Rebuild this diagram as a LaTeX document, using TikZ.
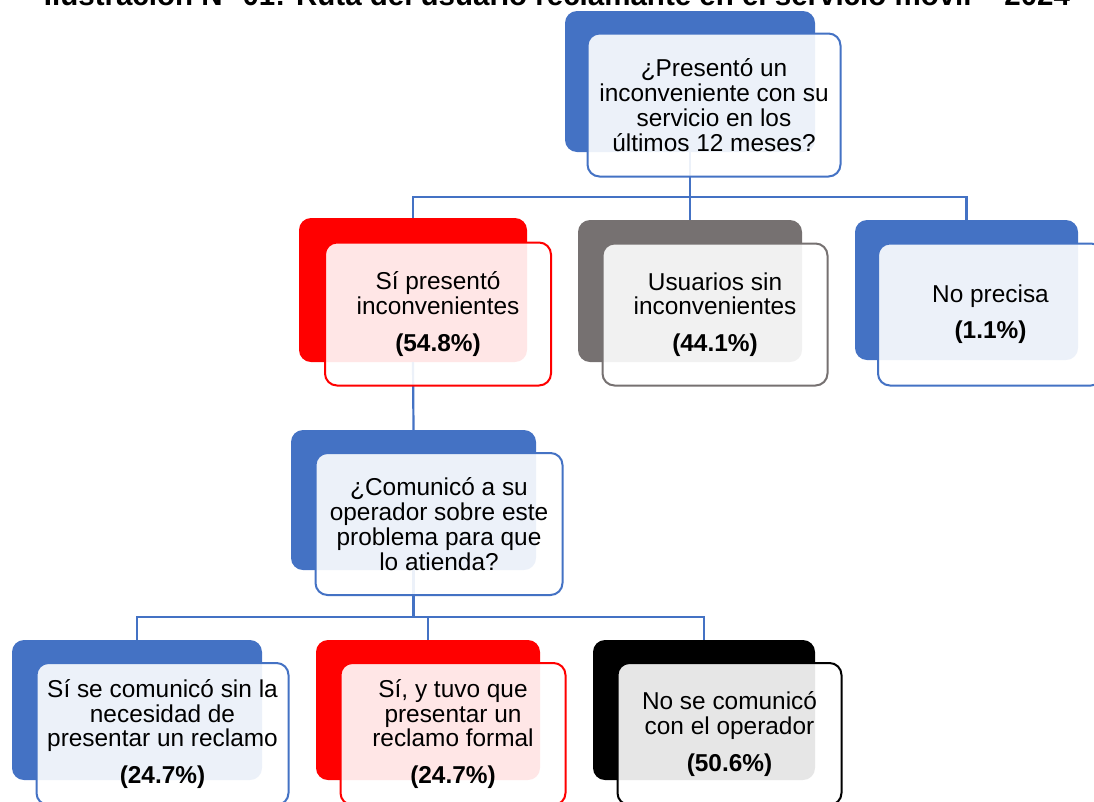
\documentclass[tikz,border=0pt]{standalone}
\usepackage{fontspec}
\setmainfont{Liberation Sans}
\usepackage{tikz}
\usetikzlibrary{positioning}

\definecolor{azul}{HTML}{4472C4}
\definecolor{rojo}{HTML}{FF0000}
\definecolor{gris}{HTML}{767171}

\begin{document}
\begin{tikzpicture}[x=1pt, y=-1pt,
		back/.style={rectangle, fill=#1, rounded corners=12pt, inner sep=0pt},
		front/.style={rectangle, draw=#1, line width=2pt, fill=white, fill opacity=0.9, text opacity=1, rounded corners=12pt, align=center, inner sep=0pt, font=\fontsize{24.4}{24.8}\selectfont},
		link/.style={draw=azul, line width=2.2pt}]
		
		\useasboundingbox (0,0) rectangle (1094,801);
		
		\node[anchor=base, font=\fontsize{29.5}{30}\selectfont\bfseries] (titulo) at (557,5) {Ilustración N° 01: Ruta del usuario reclamante en el servicio móvil – 2024};
		
		% cajas de fondo
		\node[back=azul, minimum width=250pt, minimum height=141pt] (preg) at (690,81.5) {};
		\node[back=rojo, minimum width=228pt, minimum height=144pt] (si) at (413,290) {};
		\node[back=gris, minimum width=224pt, minimum height=142pt] (sin) at (690,291) {};
		\node[back=azul, minimum width=223pt, minimum height=140pt] (np) at (966.5,290) {};
		\node[back=azul, minimum width=245pt, minimum height=140pt] (com) at (413.5,500) {};
		\node[back=azul, minimum width=250pt, minimum height=140pt] (sincl) at (137,710) {};
		\node[back=rojo, minimum width=224pt, minimum height=140pt] (recl) at (428,710) {};
		\node[back=black, minimum width=222pt, minimum height=140pt] (nocom) at (704,710) {};
		
		% conectores
		\draw[link] (preg.south) -- ++(0,45) -| (si.north);
		\draw[link] (preg.south) -- ++(0,45) -| (sin.north);
		\draw[link] (preg.south) -- ++(0,45) -| (np.north);
		\draw[link] (si.south) -- (com.north);
		\draw[link] (com.south) -- ++(0,47) -| (sincl.north);
		\draw[link] (com.south) -- ++(0,47) -| (recl.north);
		\draw[link] (com.south) -- ++(0,47) -| (nocom.north);
		
		% cajas de texto
		\node[front=azul, minimum width=253pt, minimum height=143pt, xshift=24pt, yshift=-23.5pt] (pregt) at (preg) {¿Presentó un\\inconveniente con su\\servicio en los\\últimos 12 meses?};
		\node[front=rojo, minimum width=226pt, minimum height=143pt, xshift=25pt, yshift=-24pt] (sit) at (si) {Sí presentó\\inconvenientes\\[12pt]\textbf{(54.8\%)}};
		\node[front=gris, minimum width=225pt, minimum height=142pt, xshift=25pt, yshift=-23.5pt] (sint) at (sin) {Usuarios sin\\inconvenientes\\[12pt]\textbf{(44.1\%)}};
		\node[front=azul, minimum width=225pt, minimum height=142pt, xshift=24pt, yshift=-24.5pt] (npt) at (np) {No precisa\\[11pt]\textbf{(1.1\%)}};
		\node[front=azul, minimum width=247pt, minimum height=142pt, xshift=25.5pt, yshift=-24pt] (comt) at (com) {¿Comunicó a su\\operador sobre este\\problema para que\\lo atienda?};
		\node[front=azul, minimum width=252pt, minimum height=142pt, xshift=25.5pt, yshift=-24pt] (sinclt) at (sincl) {Sí se comunicó sin la\\necesidad de\\presentar un reclamo\\[12pt]\textbf{(24.7\%)}};
		\node[front=rojo, minimum width=225pt, minimum height=142pt, xshift=25pt, yshift=-24pt] (reclt) at (recl) {Sí, y tuvo que\\presentar un\\reclamo formal\\[12pt]\textbf{(24.7\%)}};
		\node[front=black, minimum width=224pt, minimum height=142pt, xshift=25.5pt, yshift=-24pt] (nocomt) at (nocom) {No se comunicó\\con el operador\\[12pt]\textbf{(50.6\%)}};
	\end{tikzpicture}
\end{document}
